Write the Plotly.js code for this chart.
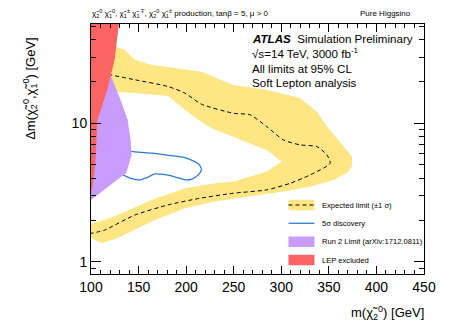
<!DOCTYPE html>
<html>
<head>
<meta charset="utf-8">
<script src="https://cdn.plot.ly/plotly-3.0.1.min.js"></script>
<style>
  html, body { margin: 0; padding: 0; background: white; }
  #chart { width: 457px; height: 328px; }
</style>
</head>
<body>
<div id="chart"></div>
<script>
// expected limit band, outer edge: top-left -> right -> apex -> lower arm back to the left
const bandOuterX = [100, 124.8, 135.3, 145.9, 163.5, 191.5, 216.2, 249.2, 284.7, 319.8, 337.4, 347.9, 365.4, 374.3, 374.3, 369.0, 354.9, 330.3, 302.2, 267.1, 230.2, 198.6, 163.5, 128.3, 110.8, 100];
const bandOuterY = [37.4, 35.7, 33.9, 28.7, 26.4, 24.9, 23.5, 18.9, 17.4, 15.2, 12.1, 9.45, 6.78, 5.74, 4.86, 4.36, 3.89, 3.48, 3.21, 2.95, 2.72, 2.43, 1.95, 1.48, 1.36, 1.48];
// inner edge: lower arm left -> inner apex -> upper arm back to the left
const bandInnerX = [100, 114.2, 128.3, 163.5, 198.6, 230.2, 249.5, 284.7, 300.5, 284.7, 249.5, 226.7, 216.2, 198.6, 181.0, 145.9, 119.5, 100];
const bandInnerY = [1.89, 2.00, 2.17, 2.79, 3.39, 3.68, 3.78, 4.47, 5.28, 6.41, 8.0, 9.2, 10.2, 12.5, 15.7, 16.5, 16.9, 17.1];

// expected limit (dashed)
const expX = [118, 145.9, 181.0, 198.6, 216.2, 249.5, 267.1, 284.7, 302.2, 319.8, 337.4, 347.9, 351.4, 330.3, 309.3, 284.7, 249.5, 214.4, 181.0, 145.9, 114.2, 100];
const expY = [22.5, 20.6, 18.4, 16.5, 13.7, 11.8, 11.5, 9.45, 7.57, 6.97, 6.78, 5.90, 5.14, 4.23, 3.68, 3.30, 3.12, 2.87, 2.57, 2.17, 1.69, 1.60];

// 5 sigma discovery contour
const discX = [136, 142.0, 163.5, 182.0, 198.6, 209.5, 214.0, 216.0, 213.0, 206.0, 199.0, 188.0, 178.0, 167.0, 159.0, 152.0, 142.0, 133.5];
const discY = [6.3, 6.25, 6.07, 5.85, 5.64, 5.25, 5.0, 4.6, 4.25, 3.95, 3.9, 4.1, 4.25, 4.3, 4.05, 3.9, 4.0, 4.23];

// Run 2 limit
const run2X = [100, 137.1, 142.7, 141.6, 138.5, 131.1, 120.6, 100];
const run2Y = [2.79, 4.38, 5.9, 7.57, 10.6, 14.7, 22.3, 22.0];

// LEP excluded
const lepX = [100, 102.1, 104.7, 106.9, 117.1, 124.8, 129.3, 100];
const lepY = [3.19, 3.58, 5.43, 10.6, 17.4, 28.7, 52, 52];

const xTicks = [100, 150, 200, 250, 300, 350, 400, 450];
const yMajor = [1, 10];
const yMinor = [0.9, 2, 3, 4, 5, 6, 7, 8, 9, 20, 30, 40, 50];

const COLORS = {
    band: '#fde683',
    disc: '#2b7bd6',
    run2: '#c99bfa',
    lep: '#ff6464'
};

const FONT = { family: 'Liberation Sans, Arial, sans-serif', color: '#000' };

const traces = [
    {
        x: bandOuterX.concat(bandInnerX),
        y: bandOuterY.concat(bandInnerY),
        mode: 'lines', fill: 'toself', fillcolor: COLORS.band,
        line: { width: 0, color: COLORS.band },
        hoverinfo: 'skip', showlegend: false
    },
    {
        x: expX, y: expY, mode: 'lines',
        line: { color: '#000', width: 1, dash: '4px,3px', shape: 'spline', smoothing: 0.6 },
        showlegend: false
    },
    {
        x: discX, y: discY, mode: 'lines',
        line: { color: COLORS.disc, width: 1.3, shape: 'spline', smoothing: 0.8 },
        showlegend: false
    },
    {
        x: run2X, y: run2Y, mode: 'lines', fill: 'toself', fillcolor: COLORS.run2,
        line: { width: 0, color: COLORS.run2 }, showlegend: false
    },
    {
        x: lepX, y: lepY, mode: 'lines', fill: 'toself', fillcolor: COLORS.lep,
        line: { width: 0, color: COLORS.lep }, showlegend: false
    }
];

// hand made legend (ROOT style), paper coords
const legRows = [0.276, 0.203, 0.129, 0.056];
const legX0 = 0.593, legX1 = 0.671, legTx = 0.688;
const shapes = [
    { type: 'rect', xref: 'paper', yref: 'paper', x0: legX0, x1: legX1, y0: legRows[0] - 0.021, y1: legRows[0] + 0.021,
      fillcolor: COLORS.band, line: { width: 0 } },
    { type: 'line', xref: 'paper', yref: 'paper', x0: legX0, x1: legX1, y0: legRows[0], y1: legRows[0],
      line: { color: '#000', width: 1, dash: '4px,3px' } },
    { type: 'line', xref: 'paper', yref: 'paper', x0: legX0, x1: legX1, y0: legRows[1], y1: legRows[1],
      line: { color: COLORS.disc, width: 1.3 } },
    { type: 'rect', xref: 'paper', yref: 'paper', x0: legX0, x1: legX1, y0: legRows[2] - 0.021, y1: legRows[2] + 0.021,
      fillcolor: COLORS.run2, line: { width: 0 } },
    { type: 'rect', xref: 'paper', yref: 'paper', x0: legX0, x1: legX1, y0: legRows[3] - 0.021, y1: legRows[3] + 0.021,
      fillcolor: COLORS.lep, line: { width: 0 } }
];
const legLabels = ['Expected limit (±1 σ)', '5σ discovery', 'Run 2 Limit (arXiv:1712.0811)', 'LEP excluded'];

const chi20 = 'χ̃<sub>2</sub><sup>0</sup>';
const chi10 = 'χ̃<sub>1</sub><sup>0</sup>';
const chi1p = 'χ̃<sub>1</sub><sup>±</sup>';
const chi1m = 'χ̃<sub>1</sub><sup>∓</sup>';

const annotations = [
    { xref: 'paper', yref: 'paper', x: -0.003, y: 1.04, xanchor: 'left', yanchor: 'middle', showarrow: false,
      text: chi20 + ' ' + chi10 + ', ' + chi1p + ' ' + chi1m + ', ' + chi20 + ' ' + chi1p + ' production, tanβ = 5, μ > 0',
      font: { size: 8 } },
    { xref: 'paper', yref: 'paper', x: 0.966, y: 1.04, xanchor: 'right', yanchor: 'middle', showarrow: false,
      text: 'Pure Higgsino', font: { size: 8 } },
    { xref: 'paper', yref: 'paper', x: 0.478, y: 0.944, xanchor: 'left', yanchor: 'middle', showarrow: false,
      text: '<b><i>ATLAS</i></b>  Simulation Preliminary', font: { size: 11.6 } },
    { xref: 'paper', yref: 'paper', x: 0.478, y: 0.884, xanchor: 'left', yanchor: 'middle', showarrow: false,
      text: '√s=14 TeV, 3000 fb<sup>-1</sup>', font: { size: 11.6 } },
    { xref: 'paper', yref: 'paper', x: 0.478, y: 0.824, xanchor: 'left', yanchor: 'middle', showarrow: false,
      text: 'All limits at 95% CL', font: { size: 11.6 } },
    { xref: 'paper', yref: 'paper', x: 0.478, y: 0.768, xanchor: 'left', yanchor: 'middle', showarrow: false,
      text: 'Soft Lepton analysis', font: { size: 11.6 } },
    // axis titles at the axis ends
    { xref: 'paper', yref: 'paper', x: 1.005, y: -0.156, xanchor: 'right', yanchor: 'middle', showarrow: false,
      text: 'm(' + chi20 + ') [GeV]', font: { size: 13 } },
    { xref: 'paper', yref: 'paper', x: -0.183, y: 0.955, xanchor: 'center', yanchor: 'top', showarrow: false,
      textangle: -90, text: 'Δm(' + chi20 + ',' + chi10 + ') [GeV]', font: { size: 13 } }
];
legLabels.forEach((t, i) => {
    annotations.push({ xref: 'paper', yref: 'paper', x: legTx, y: legRows[i], xanchor: 'left', yanchor: 'middle',
        showarrow: false, text: t, font: { size: 7.6 } });
});

const layout = {
    width: 457, height: 328,
    font: FONT,
    margin: { l: 91, r: 33, t: 24, b: 54 },
    plot_bgcolor: 'white', paper_bgcolor: 'white',
    showlegend: false,
    xaxis: {
        range: [100, 450],
        tickvals: xTicks, ticktext: xTicks.map(String),
        ticks: 'inside', ticklen: 8, tickcolor: '#000',
        showline: true, linecolor: '#000', linewidth: 1, mirror: 'ticks',
        showgrid: false, zeroline: false,
        tickfont: { size: 14 },
        minor: { dtick: 10, tick0: 0, ticks: 'inside', ticklen: 4, tickcolor: '#000', showgrid: false }
    },
    yaxis: {
        type: 'log',
        range: [Math.log10(0.815), Math.log10(52)],
        tickvals: yMajor, ticktext: yMajor.map(String),
        ticks: 'inside', ticklen: 10, tickcolor: '#000',
        showline: true, linecolor: '#000', linewidth: 1, mirror: 'ticks',
        showgrid: false, zeroline: false,
        tickfont: { size: 14 },
        minor: { tickvals: yMinor, ticks: 'inside', ticklen: 5, tickcolor: '#000', showgrid: false }
    },
    shapes: shapes,
    annotations: annotations
};

Plotly.newPlot('chart', traces, layout, { displayModeBar: false, staticPlot: true });
</script>
</body>
</html>
